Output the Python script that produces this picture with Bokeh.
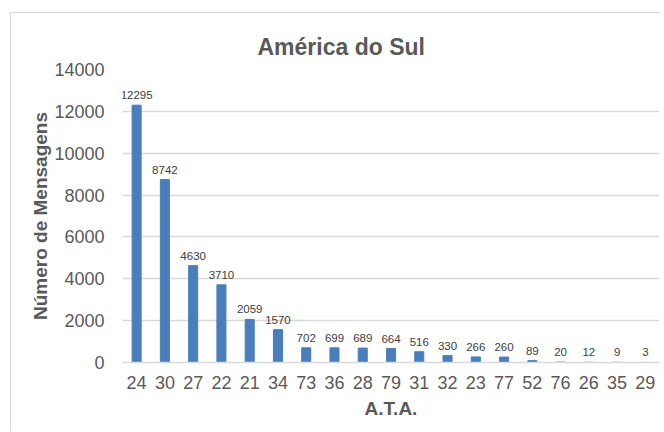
from bokeh.plotting import figure
from bokeh.models import ColumnDataSource, FactorRange, Range1d, LabelSet, SingleIntervalTicker
from bokeh.core.properties import value
from bokeh.embed import file_html
from bokeh.resources import INLINE

categories = ["24", "30", "27", "22", "21", "34", "73", "36", "28", "79",
              "31", "32", "23", "77", "52", "76", "26", "35", "29"]
values = [12295, 8742, 4630, 3710, 2059, 1570, 702, 699, 689, 664,
          516, 330, 266, 260, 89, 20, 12, 9, 3]

src = ColumnDataSource(dict(cat=categories, val=values, lab=[str(v) for v in values]))

p = figure(width=650, height=419, output_backend="svg", toolbar_location=None,
           x_range=FactorRange(*categories, range_padding=0),
           y_range=Range1d(0, 14000),
           min_border_left=111, min_border_right=2, min_border_top=56, min_border_bottom=70,
           title="América do Sul",
           styles={"margin-left": "10px", "margin-top": "12px",
                   "border-left": "1px solid #d9d9d9", "border-top": "1px solid #d9d9d9"})

p.vbar(x="cat", top="val", width=0.32, source=src, color="#4a7ebb")

labels = LabelSet(x="cat", y="val", text="lab", source=src, text_align="center",
                  text_baseline="bottom", y_offset=6, text_font_size="11.5px",
                  text_color="#404040", text_font=value("Liberation Sans"))
p.add_layout(labels)

p.title.align = "left"
p.title.offset = 135
p.title.text_font = "Liberation Sans"
p.title.text_font_size = "23px"
p.title.text_color = "#595959"
p.title.standoff = 19

p.outline_line_color = None
p.xgrid.grid_line_color = None
p.ygrid.grid_line_color = "#d9d9d9"
p.ygrid.grid_line_width = 1.5
p.yaxis.ticker = SingleIntervalTicker(interval=2000)

for ax in (p.xaxis, p.yaxis):
    ax.major_tick_line_color = None
    ax.minor_tick_line_color = None
    ax.major_label_text_font = "Liberation Sans"
    ax.major_label_text_color = "#595959"
    ax.axis_label_text_font = "Liberation Sans"
    ax.axis_label_text_font_style = "bold"
    ax.axis_label_text_color = "#595959"
    ax.axis_label_text_font_size = "19px"

p.yaxis.axis_line_color = None
p.xaxis.axis_line_color = "#d9d9d9"
p.xaxis.axis_line_width = 1.5
p.yaxis.major_label_text_font_size = "18px"
p.xaxis.major_label_text_font_size = "18px"
p.yaxis.major_label_standoff = 12
p.xaxis.major_label_standoff = 7
p.xaxis.axis_label = "A.T.A."
p.yaxis.axis_label = "Número de Mensagens"
p.xaxis.axis_label_standoff = 6
p.yaxis.axis_label_standoff = 0

open("out.html", "w").write(file_html(p, INLINE))
